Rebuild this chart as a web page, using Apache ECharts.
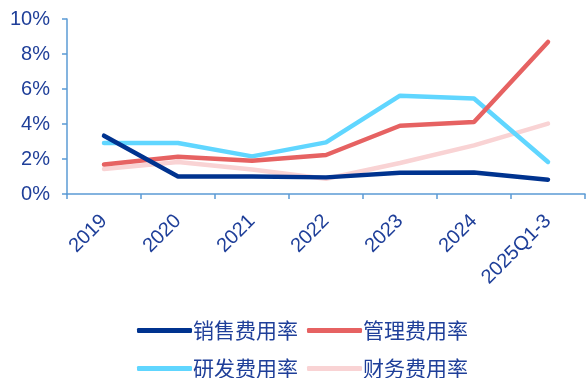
<!DOCTYPE html>
<html><head><meta charset="utf-8">
<script src="https://cdn.jsdelivr.net/npm/echarts@6/dist/echarts.min.js"></script>
<style>html,body{margin:0;padding:0;background:#fff}#c{width:586px;height:378px}</style>
</head><body><div id="c"></div>
<script>
const categories = ['2019','2020','2021','2022','2023','2024','2025Q1-3'];
const yTicks = [0,2,4,6,8,10];
const sales = [3.33, 1.0, 1.0, 0.95, 1.22, 1.23, 0.82];
const admin = [1.69, 2.13, 1.9, 2.23, 3.9, 4.11, 8.69];
const rnd = [2.91, 2.91, 2.15, 2.95, 5.62, 5.46, 1.83];
const fin = [1.43, 1.83, 1.4, 0.87, 1.77, 2.78, 4.02];
const names = ['销售费用率','管理费用率','研发费用率','财务费用率'];
const colors = ['#00338F','#E66262','#60D6FF','#F9D3D4'];
const txt = '#1F3F99';
const axisCol = '#5B9BD5';
const font = '"Liberation Sans", Arial, "Noto Sans CJK SC", sans-serif';
const chart = echarts.init(document.getElementById('c'));
const mk = (i, d) => ({name: names[i], type:'line', data:d, symbol:'none', smooth:false,
  lineStyle:{width:4.5, color:colors[i], cap:'round'}, itemStyle:{color:colors[i]}, z: 10 - i});
const legendBase = {itemWidth:55, itemHeight:5, itemGap:9, icon:'roundRect',
  textStyle:{color:txt, fontSize:21, fontFamily:'"Noto Sans CJK SC", sans-serif', padding:[0,0,0,-4]}};
chart.setOption({
  animation:false,
  textStyle:{fontFamily:font},
  grid:{left:67, right:1, top:19, bottom:184, containLabel:false},
  legend:[
    Object.assign({data:[names[0],names[1]], left:132, top:315}, legendBase),
    Object.assign({data:[names[2],names[3]], left:132, top:353}, legendBase)
  ],
  xAxis:{type:'category', data:categories, boundaryGap:true,
    axisLine:{lineStyle:{color:axisCol, width:1.5}},
    axisTick:{show:true, length:5, lineStyle:{color:axisCol, width:1.5}},
    axisLabel:{rotate:45, color:txt, fontSize:20, margin:24, interval:0, fontFamily:font}},
  yAxis:{type:'value', min:0, max:10, interval:2,
    axisLine:{show:true, lineStyle:{color:axisCol, width:1.5}},
    axisTick:{show:true, length:5, lineStyle:{color:axisCol, width:1.5}},
    splitLine:{show:false},
    axisLabel:{color:txt, fontSize:20, margin:17, fontFamily:font,
      formatter:v => yTicks.includes(v) ? v + '%' : ''}},
  series:[mk(0,sales), mk(1,admin), mk(2,rnd), mk(3,fin)]
});
</script></body></html>
